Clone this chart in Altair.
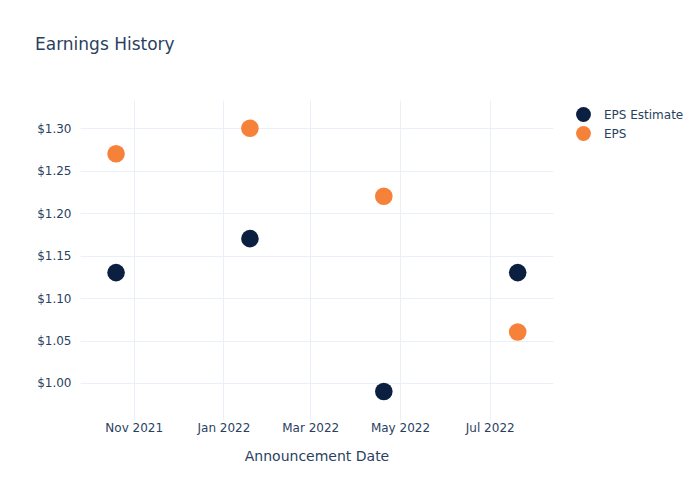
import altair as alt
import pandas as pd

dates = ["2021-10-20", "2022-01-19", "2022-04-20", "2022-07-20"]
eps_estimate = [1.13, 1.17, 0.99, 1.13]
eps_actual = [1.27, 1.30, 1.22, 1.06]
series_names = ["EPS Estimate", "EPS"]
series_colors = ["#0b1f41", "#f6823a"]

rows = []
for d, v in zip(dates, eps_estimate):
    rows.append({"date": d, "value": v, "series": "EPS Estimate"})
for d, v in zip(dates, eps_actual):
    rows.append({"date": d, "value": v, "series": "EPS"})
df = pd.DataFrame(rows)

font = "DejaVu Sans"
txt = "#2a3f5f"
grid = "#ebf0f8"

x_ticks = [
    alt.DateTime(year=2021, month=11, date=1, utc=True),
    alt.DateTime(year=2022, month=1, date=1, utc=True),
    alt.DateTime(year=2022, month=3, date=1, utc=True),
    alt.DateTime(year=2022, month=5, date=1, utc=True),
    alt.DateTime(year=2022, month=7, date=1, utc=True),
]
x_domain = [
    alt.DateTime(year=2021, month=9, date=25, hours=12, utc=True),
    alt.DateTime(year=2022, month=8, date=13, utc=True),
]

chart = alt.Chart(df).mark_circle(size=310, opacity=1).encode(
    x=alt.X(
        "date:T",
        title="Announcement Date",
        scale=alt.Scale(type="utc", domain=x_domain, nice=False),
        axis=alt.Axis(
            values=x_ticks,
            format="%b %Y",
            grid=True,
            gridColor=grid,
            domain=False,
            ticks=False,
            labelPadding=2,
            titlePadding=16,
            labelFont=font,
            labelFontSize=12,
            labelColor=txt,
            titleFont=font,
            titleFontSize=14,
            titleColor=txt,
            titleFontWeight="normal",
        ),
    ),
    y=alt.Y(
        "value:Q",
        title=None,
        scale=alt.Scale(domain=[0.9564, 1.3333], nice=False, zero=False),
        axis=alt.Axis(
            values=[1.00, 1.05, 1.10, 1.15, 1.20, 1.25, 1.30],
            format="$.2f",
            grid=True,
            gridColor=grid,
            domain=False,
            ticks=False,
            labelPadding=9,
            labelFont=font,
            labelFontSize=12,
            labelColor=txt,
        ),
    ),
    color=alt.Color(
        "series:N",
        scale=alt.Scale(domain=series_names, range=series_colors),
        legend=alt.Legend(
            title=None,
            orient="none",
            legendX=495,
            legendY=6,
            symbolType="circle",
            symbolSize=220,
            symbolOpacity=1,
            labelFont=font,
            labelFontSize=12,
            labelColor=txt,
            rowPadding=3,
            labelOffset=12,
        ),
    ),
    order=alt.Order("series:N", sort="descending"),
).properties(
    width=473,
    height=320,
    title=alt.TitleParams(
        "Earnings History",
        anchor="start",
        frame="group",
        font=font,
        fontSize=17,
        fontWeight="normal",
        color=txt,
        dx=-45,
        offset=46,
    ),
    autosize=alt.AutoSizeParams(type="none"),
    padding={"left": 80, "top": 100, "right": 147, "bottom": 80},
    background="white",
).configure_view(stroke=None)

chart.save("out.html", embed_options={"renderer": "svg", "actions": False})
